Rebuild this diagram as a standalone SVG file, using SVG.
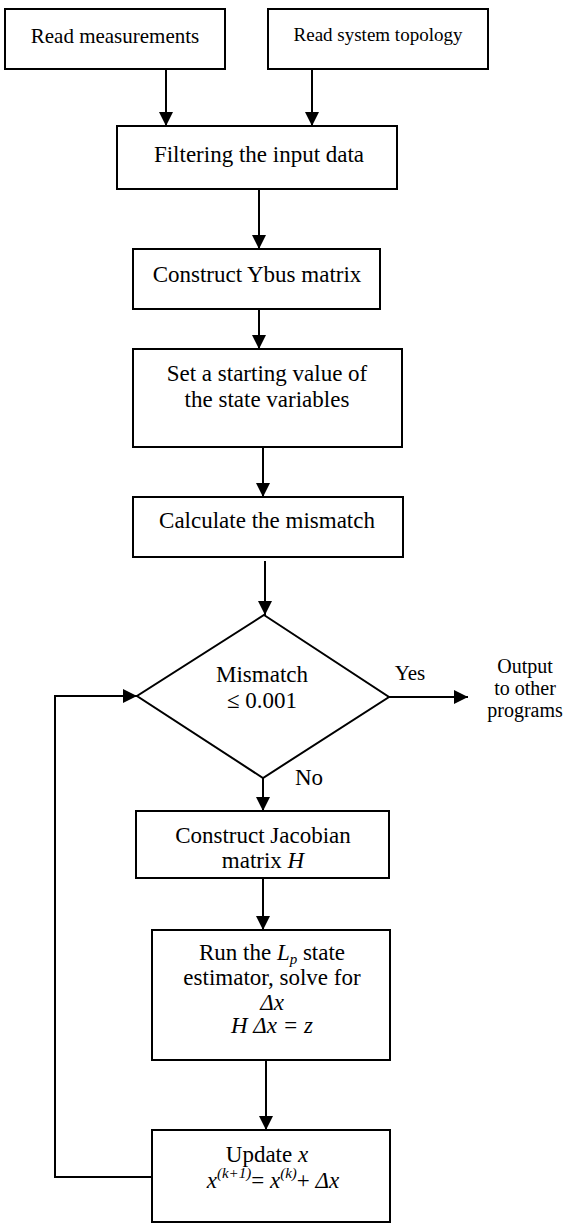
<svg xmlns="http://www.w3.org/2000/svg" width="567" height="1223" viewBox="0 0 567 1223">
<style>
.box{fill:#fff;stroke:#000;stroke-width:2}
.t{font-family:'Liberation Serif','Tinos','DejaVu Serif',serif;font-size:23px;fill:#000;text-anchor:middle}
.i{font-style:italic}
.c{fill:none;stroke:#000;stroke-width:2}
</style>
<defs>
<marker id="ah" markerUnits="userSpaceOnUse" markerWidth="14" markerHeight="14" refX="14" refY="7" orient="auto">
<path d="M0,0 L14,7 L0,14 z" fill="#000"/>
</marker>
</defs>
<rect width="567" height="1223" fill="#fff"/>
<g id="connectors">
<path class="c" d="M166,69 V126" marker-end="url(#ah)"/>
<path class="c" d="M312,69 V126" marker-end="url(#ah)"/>
<path class="c" d="M259,189 V249" marker-end="url(#ah)"/>
<path class="c" d="M259,309 V349" marker-end="url(#ah)"/>
<path class="c" d="M263,447 V497" marker-end="url(#ah)"/>
<path class="c" d="M265,561 V615" marker-end="url(#ah)"/>
<path class="c" d="M263,778 V811" marker-end="url(#ah)"/>
<path class="c" d="M389,697 H468" marker-end="url(#ah)"/>
<path class="c" d="M263,878 V930" marker-end="url(#ah)"/>
<path class="c" d="M266,1060 V1130" marker-end="url(#ah)"/>
<path class="c" d="M152,1177 H55 V696 H137" marker-end="url(#ah)"/>
</g>
<g id="read-measurements">
<rect class="box" x="5" y="9" width="220" height="60"/>
<text class="t" x="115" y="43" style="font-size:21px">Read measurements</text>
</g>
<g id="read-topology">
<rect class="box" x="268" y="9" width="220" height="60"/>
<text class="t" x="378" y="41" style="font-size:19px">Read system topology</text>
</g>
<g id="filter">
<rect class="box" x="117" y="126" width="280" height="63"/>
<text class="t" x="259" y="162">Filtering the input data</text>
</g>
<g id="ybus">
<rect class="box" x="133" y="249" width="247" height="60"/>
<text class="t" x="257" y="282">Construct Ybus matrix</text>
</g>
<g id="start">
<rect class="box" x="133" y="349" width="269" height="98"/>
<text class="t" x="267" y="381">Set a starting value of</text>
<text class="t" x="267" y="407">the state variables</text>
</g>
<g id="mismatch">
<rect class="box" x="133" y="497" width="270" height="60"/>
<text class="t" x="267" y="528">Calculate the mismatch</text>
</g>
<g id="decision">
<path class="box" d="M264,615 L389,697 L263,778 L137,696 Z"/>
<text class="t" x="262" y="682">Mismatch</text>
<text class="t" x="262" y="708">≤ 0.001</text>
<text class="t" x="410" y="680" style="font-size:21px">Yes</text>
<text class="t" x="309" y="785">No</text>
</g>
<g id="output">
<text class="t" x="525" y="673" style="font-size:20px">Output</text>
<text class="t" x="525" y="695" style="font-size:20px">to other</text>
<text class="t" x="525" y="717" style="font-size:20px">programs</text>
</g>
<g id="jacobian">
<rect class="box" x="136" y="811" width="253" height="67"/>
<text class="t" x="263" y="843">Construct Jacobian</text>
<text class="t" x="263" y="868">matrix <tspan class="i">H</tspan></text>
</g>
<g id="estimator">
<rect class="box" x="152" y="930" width="238" height="130"/>
<text class="t" x="272" y="960">Run the <tspan class="i">L</tspan><tspan class="i" dy="4" style="font-size:15px">p</tspan><tspan dy="-4"> state</tspan></text>
<text class="t" x="272" y="985">estimator, solve for</text>
<text class="t i" x="272" y="1010">Δx</text>
<text class="t i" x="272" y="1033">H Δx = z</text>
</g>
<g id="update">
<rect class="box" x="152" y="1130" width="238" height="92"/>
<text class="t" x="267" y="1162">Update <tspan class="i">x</tspan></text>
<text class="t" x="273" y="1188"><tspan class="i">x</tspan><tspan class="i" dy="-10" style="font-size:15px">(k+1)</tspan><tspan dy="10">= </tspan><tspan class="i">x</tspan><tspan class="i" dy="-10" style="font-size:15px">(k)</tspan><tspan dy="10">+ </tspan><tspan class="i">Δx</tspan></text>
</g>
</svg>
